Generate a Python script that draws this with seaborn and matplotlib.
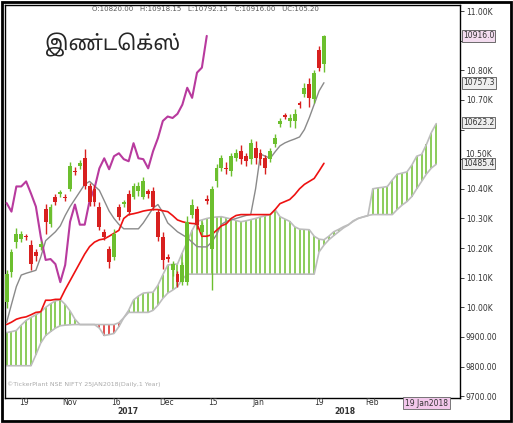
import numpy as np
import pandas as pd
import seaborn as sns
import matplotlib.pyplot as plt
from matplotlib.patches import Rectangle

# candle data (daily, Oct 2017 - Jan 2018)
opens = [10017, 10119, 10221, 10231, 10238, 10211, 10187, 10204, 10333, 10282,
         10371, 10384, 10371, 10401, 10459, 10476, 10503, 10408, 10398, 10340,
         10255, 10197, 10170, 10340, 10350, 10381, 10374, 10391, 10374, 10391,
         10391, 10323, 10238, 10170, 10126, 10112, 10085, 10085, 10313, 10333,
         10255, 10364, 10197, 10425, 10469, 10469, 10459, 10503, 10527, 10510,
         10500, 10537, 10520, 10503, 10500, 10551, 10619, 10646, 10629, 10629,
         10687, 10721, 10755, 10704, 10867, 10820]
closes = [10112, 10187, 10248, 10248, 10236, 10146, 10173, 10214, 10289, 10340,
          10357, 10386, 10368, 10476, 10457, 10486, 10408, 10357, 10357, 10272,
          10238, 10153, 10248, 10306, 10352, 10323, 10408, 10408, 10425, 10384,
          10340, 10238, 10160, 10163, 10146, 10085, 10143, 10289, 10347, 10279,
          10279, 10360, 10401, 10469, 10503, 10466, 10510, 10520, 10500, 10493,
          10554, 10503, 10500, 10469, 10527, 10571, 10629, 10644, 10639, 10653,
          10684, 10741, 10707, 10792, 10809, 10916]
upper_wick = [15, 10, 20, 10, 10, 15, 10, 10, 15, 10,
              10, 10, 10, 15, 15, 10, 30, 10, 15, 15,
              10, 10, 15, 10, 10, 15, 10, 15, 15, 10,
              15, 10, 15, 10, 10, 10, 10, 20, 20, 10,
              10, 15, 10, 15, 10, 20, 10, 15, 20, 10,
              15, 25, 15, 10, 10, 15, 10, 10, 15, 15,
              10, 15, 20, 10, 15, 3]
lower_wick = [20, 15, 20, 10, 10, 20, 15, 10, 40, 10,
              10, 10, 10, 10, 10, 10, 10, 15, 15, 10,
              10, 20, 10, 10, 10, 10, 10, 15, 10, 15,
              10, 15, 30, 10, 20, 15, 10, 10, 10, 15,
              10, 10, 140, 20, 10, 15, 15, 10, 15, 15,
              15, 20, 20, 20, 10, 10, 10, 10, 20, 25,
              10, 10, 30, 15, 10, 25]

tenkan = [9949, 10010, 10070, 10109, 10115, 10120, 10125, 10170, 10225, 10240,
          10255, 10275, 10310, 10340, 10365, 10390, 10415, 10425, 10410, 10395,
          10360, 10325, 10300, 10280, 10265, 10265, 10265, 10265, 10285, 10310,
          10335, 10347, 10320, 10285, 10270, 10255, 10245, 10235, 10220, 10205,
          10204, 10204, 10220, 10245, 10280, 10290, 10295, 10300, 10305, 10310,
          10313, 10400, 10517, 10510, 10503, 10525, 10545, 10555, 10562, 10568,
          10575, 10600, 10640, 10685, 10730, 10758]
kijun = [9942, 9950, 9960, 9965, 9968, 9975, 9983, 9985, 10024, 10024,
         10027, 10027, 10060, 10090, 10120, 10150, 10180, 10205, 10220, 10228,
         10231, 10240, 10250, 10260, 10300, 10313, 10316, 10320, 10325, 10328,
         10330, 10330, 10326, 10323, 10310, 10295, 10289, 10285, 10283, 10282,
         10240, 10240, 10245, 10260, 10275, 10282, 10300, 10310, 10313, 10313,
         10313, 10313, 10313, 10313, 10313, 10330, 10350, 10357, 10364, 10380,
         10400, 10415, 10425, 10435, 10460, 10486]
chikou_shift = 24

span_a = [9915, 9918, 9922, 9940, 9956, 9966, 9975, 9985, 10000, 10012,
          10022, 10026, 10010, 9988, 9960, 9942, 9942, 9942, 9942, 9930,
          9905, 9908, 9912, 9935, 9965, 9990, 10025, 10038, 10048, 10050,
          10051, 10075, 10110, 10143, 10145, 10146, 10185, 10221, 10260, 10290,
          10295, 10300, 10303, 10305, 10306, 10302, 10298, 10293, 10289, 10292,
          10296, 10300, 10305, 10309, 10313, 10330, 10306, 10298, 10290, 10272,
          10264, 10263, 10262, 10240, 10230, 10228, 10240, 10255, 10263, 10272,
          10279, 10290, 10300, 10305, 10309, 10400, 10403, 10405, 10408, 10430,
          10449, 10453, 10457, 10480, 10510, 10516, 10550, 10590, 10620]
span_b = ([9803] * 6 + [9840, 9880, 9905, 9918, 9930, 9938, 9940, 9941, 9942]
          + [9942] * 8 + [9948, 9965, 9983] + [9983] * 4
          + [9990, 10007, 10030, 10048, 10058, 10070, 10095, 10112]
          + [10112] * 26
          + [10187, 10210, 10228, 10242, 10255, 10268, 10278, 10292, 10300, 10305, 10310]
          + [10313] * 5
          + [10330, 10345, 10357, 10374, 10400, 10425, 10450, 10470, 10483])

tick_pos = [3.5, 12.9, 22.4, 32.7, 42.2, 51.6, 63.9, 74.9]
tick_labels = ['19', 'Nov', '16', 'Dec', '15', 'Jan', '19', 'Feb']
year_pos = [24.9, 69.4]
year_labels = ['2017', '2018']
y_ticks = [9700, 9800, 9900, 10000, 10100, 10200, 10300, 10400, 10500, 10600, 10700, 10800, 10900, 11000]
y_labels = ['9700.00', '9800.00', '9900.00', '10.00K', '10.10K', '10.20K', '10.30K',
            '10.40K', '', '', '10.70K', '10.80K', '', '11.00K']
boxes = [(10916.0, '10916.0', '#f3dcef'), (10757.3, '10757.3', '#eeeeee'),
         (10623.2, '10623.2', '#eeeeee'), (10485.4, '10485.4', '#eeeeee')]

GREEN = '#6cbf2e'
RED = '#d8201f'

sns.set_style('white')
plt.rcParams['font.family'] = ['DejaVu Sans']

fig = plt.figure(figsize=(5.13, 4.23), dpi=100)
ax = fig.add_axes([0.01, 0.059, 0.887, 0.929])

n = len(opens)
idx = np.arange(n)
cidx = np.arange(len(span_a))

# cloud hatch (vertical line per day)
for i, (a, b) in enumerate(zip(span_a, span_b)):
    if a != b:
        ax.vlines(i, min(a, b), max(a, b), color=GREEN if a > b else RED, lw=1.1, zorder=1)
cloud = pd.DataFrame({'i': cidx, 'a': span_a, 'b': span_b})
sns.lineplot(data=cloud, x='i', y='a', color='#bdbdbd', lw=1.2, ax=ax, zorder=2)
sns.lineplot(data=cloud, x='i', y='b', color='#bdbdbd', lw=1.2, ax=ax, zorder=2)

lines = pd.DataFrame({'i': idx, 'tenkan': tenkan, 'kijun': kijun})
sns.lineplot(data=lines, x='i', y='tenkan', color='#8a8a8a', lw=1.0, ax=ax, zorder=3)
sns.lineplot(data=lines, x='i', y='kijun', color='#ee1111', lw=1.2, ax=ax, zorder=3)
chikou = pd.DataFrame({'i': idx[chikou_shift:] - chikou_shift, 'c': closes[chikou_shift:]})
sns.lineplot(data=chikou, x='i', y='c', color='#b83a9e', lw=1.5, ax=ax, zorder=3)

# candles
for i in range(n):
    o, c = opens[i], closes[i]
    col = GREEN if c >= o else RED
    hi = max(o, c) + upper_wick[i]
    lo = min(o, c) - lower_wick[i]
    ax.vlines(i, lo, hi, color=col, lw=1, zorder=4)
    body = max(abs(c - o), 4)
    ax.bar(i, body, bottom=min(o, c), width=0.8, color=col, zorder=5, lw=0)

ax.set_xlim(-0.3, 92.9)
ax.set_ylim(9694, 11020)
ax.set_xlabel('')
ax.set_ylabel('')
ax.set_xticks([])
ax.yaxis.tick_right()
ax.set_yticks(y_ticks)
ax.set_yticklabels(y_labels, fontsize=5.5, color='#333333')
ax.tick_params(axis='y', length=3, width=0.6, pad=1, right=True, direction='out')
for s in ax.spines.values():
    s.set_color('black')
    s.set_linewidth(1.0)

# 10.50K label sits just above the 10485.4 box
ax.text(1.012, 10500, '10.50K', transform=ax.get_yaxis_transform(), fontsize=5.5,
        va='bottom', ha='left', color='#333333')

for val, txt, bg in boxes:
    ax.text(1.006, val, txt, transform=ax.get_yaxis_transform(), fontsize=5.5,
            va='center', ha='left', color='#333333',
            bbox=dict(boxstyle='square,pad=0.15', fc=bg, ec='#555555', lw=0.6))

for p, t in zip(tick_pos, tick_labels):
    ax.text(p, -0.012, t, transform=ax.get_xaxis_transform(), fontsize=5.5,
            ha='center', va='center', color='#333333')
for p, t in zip(year_pos, year_labels):
    ax.text(p, -0.034, t, transform=ax.get_xaxis_transform(), fontsize=5.5,
            ha='center', va='center', color='#333333', fontweight='bold')
ax.text(86, -0.013, '19 Jan2018', transform=ax.get_xaxis_transform(), fontsize=5.5,
        ha='center', va='center', color='#333333',
        bbox=dict(boxstyle='square,pad=0.2', fc='#f3c8ec', ec='#666666', lw=0.6))

ax.text(0.44, 0.998, 'O:10820.00   H:10918.15   L:10792.15   C:10916.00   UC:105.20',
        transform=ax.transAxes, fontsize=5, ha='center', va='top', color='#555555')
ax.text(0.005, 0.035, '\u00a9TickerPlant NSE NIFTY 25JAN2018(Daily,1 Year)',
        transform=ax.transAxes, fontsize=4.5, ha='left', va='center', color='#aaaaaa')
fig.text(0.088, 0.893, 'இண்டெக்ஸ்', fontsize=15, fontweight='bold', ha='left', va='center',
         family=['Noto Sans Tamil', 'Lohit Tamil', 'DejaVu Sans'])

fig.patches.append(Rectangle((0.003, 0.004), 0.994, 0.992, transform=fig.transFigure,
                             fill=False, ec='black', lw=2))
fig.savefig('out.png', dpi=100)
